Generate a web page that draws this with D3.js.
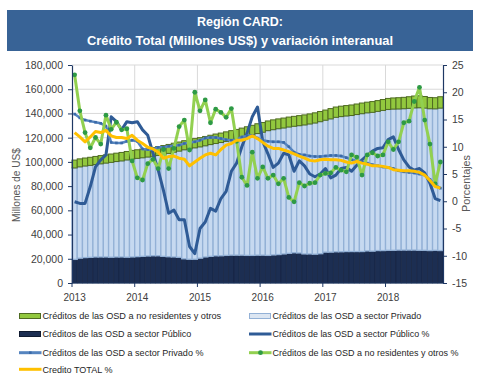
<!DOCTYPE html>
<html><head><meta charset="utf-8">
<script src="https://cdn.jsdelivr.net/npm/d3@7/dist/d3.min.js"></script>
<style>body{margin:0;background:#fff}svg{display:block}</style>
</head><body><svg id="c" width="482" height="384"></svg>
<script>
// ---------- DATA ----------
const years = ["2013","2014","2015","2016","2017","2018"];
const months = d3.range(71).map(i => (2013 + Math.floor(i/12)) + "-" + String(i%12+1).padStart(2,"0"));
const leftTicks = [0,20000,40000,60000,80000,100000,120000,140000,160000,180000];
const rightTicks = [-15,-10,-5,0,5,10,15,20,25];

const publico = [19500,20500,21000,21200,21500,21500,21500,21300,21500,21500,21300,21500,
 21800,22000,22300,22500,22500,22000,21700,21500,21200,20000,19600,19600,
 20500,21500,22000,22500,22500,22800,23000,23000,23000,22800,22800,23000,
 23000,22800,23200,23500,24000,24500,25000,24800,24000,24000,23800,24200,
 25500,25500,25800,25800,26000,26000,26000,26000,26500,26300,26800,26800,
 27000,27000,27200,27200,27200,27200,27000,27000,26800,27000,26800];
const privado = [75500,75400,75600,75900,76300,76900,77500,78300,78800,79300,80300,80900,
 81100,81400,81700,82100,82800,84200,85300,86500,87700,90000,91100,92000,
 91900,91800,92300,92700,93500,94100,94900,95800,96900,98200,99300,100400,
 101500,103000,103400,103900,104000,104300,104400,105100,106500,107300,108300,109000,
 108900,110000,111000,111600,111900,112300,113100,113800,114000,114600,114900,115700,
 116300,116600,116500,116700,117000,117400,117700,117400,117100,116800,117600];
const otros = [6500,6600,6600,6700,6700,6800,6800,6900,6900,7000,7000,7100,
 7100,7200,7200,7300,7300,7300,7400,7400,7500,7500,7600,7600,
 7600,7700,7700,7800,7800,7900,7900,8000,8000,8000,8100,8100,
 8000,8000,8100,8100,8200,8200,8200,8300,8300,8300,8400,8400,
 8400,8500,8500,8600,8600,8700,8700,8800,8800,8900,8900,9000,
 9100,9200,9300,9400,9600,9800,9900,9600,9300,9200,9400];

const publicoPct = [-0.1,-0.4,-0.4,2.7,6.3,7.6,8.5,15.5,14.6,13.1,14.6,14.4,
 14.6,13.1,12.1,8.8,5.7,2.0,-2.2,-1.6,-3.4,-3.4,-8.3,-9.6,
 -5.0,-3.8,-1.3,-1.8,0.5,1.8,5.5,7.0,10.0,12.5,15.5,17.3,
 11.0,8.7,6.2,7.0,8.8,8.5,5.5,7.4,6.5,5.0,4.5,5.0,
 6.0,4.3,4.8,6.0,6.2,5.5,6.6,7.6,8.4,9.2,9.7,9.8,
 11.3,11.8,9.5,7.6,6.3,5.7,6.0,5.2,3.3,0.5,0.1];
const privadoPct = [16.0,15.3,14.9,14.7,14.5,14.3,13.8,10.8,10.7,10.7,11.0,11.2,
 11.0,9.6,9.5,9.5,9.9,9.9,10.1,10.2,10.3,10.6,10.8,10.9,
 11.2,11.6,11.7,11.7,11.5,11.3,11.2,11.3,11.8,12.0,12.1,11.6,
 11.2,11.0,10.9,10.9,10.8,10.0,9.0,8.6,8.5,8.3,8.2,8.2,
 8.3,8.4,8.4,8.3,8.0,7.6,7.4,7.2,7.0,6.7,6.5,6.3,
 6.2,6.0,5.6,5.4,5.3,5.2,5.0,4.8,4.0,3.0,2.4];
const otrosPct = [23.2,16.6,12.6,9.8,11.7,10.5,15.8,13.2,14.5,13.1,13.3,7.4,
 4.3,3.9,6.9,7.7,6.0,9.5,6.0,9.7,13.7,14.9,9.4,20.0,
 16.6,18.6,14.4,16.9,16.3,15.4,17.0,11.0,4.4,2.9,9.0,4.2,
 6.3,4.2,4.8,3.2,4.2,0.7,-0.1,3.4,2.8,3.3,3.4,4.8,
 5.1,5.2,6.2,5.7,5.4,8.5,8.1,4.8,8.5,8.9,8.3,8.5,
 10.9,9.5,10.9,14.4,14.7,18.3,20.9,14.9,10.5,3.2,7.2];
const totalPct = [12.6,11.8,10.9,11.8,12.8,12.6,13.0,12.0,11.7,11.7,11.5,12.1,
 11.2,10.6,9.9,9.6,9.0,7.9,8.2,8.3,7.9,7.7,6.5,7.2,
 7.9,8.5,8.8,8.5,9.5,10.3,10.6,11.2,11.2,11.5,12.0,11.5,
 10.8,10.1,9.7,9.7,9.4,9.1,8.7,8.3,7.9,7.5,7.4,7.6,
 7.7,7.6,7.6,7.5,7.2,7.0,7.3,7.0,6.8,6.5,6.5,6.4,
 6.2,5.8,5.7,5.6,5.6,5.5,5.3,4.8,3.8,2.7,2.4];

const titleLines = ["Región CARD:", "Crédito Total (Millones US$) y variación interanual"];
const leftTitle = "Millones de US$";
const rightTitle = "Porcentajes";
const legendLabels = [
 "Créditos de las OSD a no residentes y otros",
 "Créditos de las OSD a sector Privado",
 "Créditos de las OSD a sector Público",
 "Créditos de las OSD a sector Público %",
 "Créditos de las OSD a sector Privado %",
 "Créditos de las OSD a no residentes y otros %",
 "Credito TOTAL %"];

// ---------- STYLE ----------
const C = {
  title: "#386396", grid: "#d9d9d9", axis: "#1f3864", tick: "#404040", atitle: "#595959",
  pubBar: "#1c2e52", pubBarS: "#15223f", privBar: "#c6d9f0", privBarS: "#93b1d6",
  otrBar: "#92c83e", otrBarS: "#4f6b22",
  pubPct: "#2f5b96", privPct: "#5584bf", privMk: "#3a6aa8",
  otrPct: "#92d050", otrMk: "#2e9a45", totPct: "#ffc000"
};
const FONT = "'Liberation Sans', Arial, sans-serif";

const svg = d3.select("#c");
const x = d3.scaleBand().domain(months).range([72, 443]).padding(0);
const yL = d3.scaleLinear().domain([0, 180000]).range([283, 65]);
const yR = d3.scaleLinear().domain([-15, 25]).range([283, 65]);
const cx = i => x(months[i]) + x.bandwidth() / 2;

// title box
svg.append("rect").attr("x", 7).attr("y", 10).attr("width", 466).attr("height", 41).attr("fill", C.title);
const tW = [86, 306], tY = [26, 44.5];
titleLines.forEach((t, k) => {
  svg.append("text").attr("x", 240).attr("y", tY[k]).attr("text-anchor", "middle")
    .attr("fill", "#fff").attr("font-family", FONT).attr("font-weight", "bold").attr("font-size", 12.8)
    .attr("textLength", tW[k]).attr("lengthAdjust", "spacingAndGlyphs").text(t);
});

// gridlines
const g = svg.append("g");
g.selectAll("line.h").data(leftTicks.slice(1)).join("line")
  .attr("x1", 72).attr("x2", 443).attr("y1", d => yL(d)).attr("y2", d => yL(d))
  .attr("stroke", C.grid).attr("stroke-width", 1);
g.selectAll("line.v").data(years.slice(1)).join("line")
  .attr("x1", (d, k) => x(months[(k + 1) * 12])).attr("x2", (d, k) => x(months[(k + 1) * 12]))
  .attr("y1", 65).attr("y2", 283).attr("stroke", C.grid).attr("stroke-width", 1);

// stacked bars
const rows = months.map((m, i) => ({ m, publico: publico[i], privado: privado[i], otros: otros[i] }));
const stack = d3.stack().keys(["publico", "privado", "otros"])(rows);
const barStyle = { publico: [C.pubBar, C.pubBarS, 0.6], privado: [C.privBar, C.privBarS, 1.3], otros: [C.otrBar, C.otrBarS, 1] };
stack.forEach(layer => {
  const st = barStyle[layer.key];
  svg.append("g").selectAll("rect").data(layer).join("rect")
    .attr("x", d => x(d.data.m)).attr("width", x.bandwidth())
    .attr("y", d => yL(d[1])).attr("height", d => yL(d[0]) - yL(d[1]))
    .attr("fill", st[0]).attr("stroke", st[1]).attr("stroke-width", st[2]);
});

// lines
const line = d3.line().x((d, i) => cx(i)).y(d => yR(d));
svg.append("path").datum(publicoPct).attr("d", line).attr("fill", "none").attr("stroke", C.pubPct).attr("stroke-width", 3).attr("stroke-linejoin", "round");
svg.append("path").datum(privadoPct).attr("d", line).attr("fill", "none").attr("stroke", C.privPct).attr("stroke-width", 2.5).attr("stroke-linejoin", "round");
svg.append("g").selectAll("rect").data(privadoPct).join("rect")
  .attr("x", (d, i) => cx(i) - 1.3).attr("y", d => yR(d) - 1.3).attr("width", 2.6).attr("height", 2.6).attr("fill", C.privMk);
svg.append("path").datum(otrosPct).attr("d", line).attr("fill", "none").attr("stroke", C.otrPct).attr("stroke-width", 3).attr("stroke-linejoin", "round");
svg.append("g").selectAll("circle").data(otrosPct).join("circle")
  .attr("cx", (d, i) => cx(i)).attr("cy", d => yR(d)).attr("r", 2.4).attr("fill", C.otrMk);
svg.append("path").datum(totalPct).attr("d", line).attr("fill", "none").attr("stroke", C.totPct).attr("stroke-width", 3).attr("stroke-linejoin", "round");

// axes
function styleAxis(sel) {
  sel.selectAll(".domain").attr("stroke", C.axis).attr("stroke-width", 1.2);
  sel.selectAll(".tick line").attr("stroke", C.axis);
  sel.selectAll(".tick text").attr("fill", C.tick).attr("font-family", FONT).attr("font-size", 10.5);
}
const axL = svg.append("g").attr("transform", "translate(72,0)")
  .call(d3.axisLeft(yL).tickValues(leftTicks).tickFormat(d3.format(",")).tickSize(4).tickPadding(5).tickSizeOuter(0));
styleAxis(axL);
const axR = svg.append("g").attr("transform", "translate(443,0)")
  .call(d3.axisRight(yR).tickValues(rightTicks).tickFormat(d => String(d)).tickSize(4).tickPadding(5).tickSizeOuter(0));
styleAxis(axR);
// bottom axis
svg.append("line").attr("x1", 72).attr("x2", 443).attr("y1", 283).attr("y2", 283).attr("stroke", C.axis).attr("stroke-width", 1.2);
svg.append("g").selectAll("line").data(years).join("line")
  .attr("x1", (d, k) => x(months[k * 12])).attr("x2", (d, k) => x(months[k * 12]))
  .attr("y1", 283).attr("y2", 287).attr("stroke", C.axis);
svg.append("g").selectAll("text").data(years).join("text")
  .attr("x", (d, k) => cx(k * 12)).attr("y", 300.5).attr("text-anchor", "middle")
  .attr("fill", C.tick).attr("font-family", FONT).attr("font-size", 10).text(d => d);

// axis titles
svg.append("text").attr("transform", "translate(20,185) rotate(-90)").attr("text-anchor", "middle")
  .attr("fill", C.atitle).attr("font-family", FONT).attr("font-size", 10.3)
  .attr("textLength", 74).attr("lengthAdjust", "spacingAndGlyphs").text(leftTitle);
svg.append("text").attr("transform", "translate(470,183.5) rotate(-90)").attr("text-anchor", "middle")
  .attr("fill", C.atitle).attr("font-family", FONT).attr("font-size", 10.5)
  .attr("textLength", 57).attr("lengthAdjust", "spacingAndGlyphs").text(rightTitle);

// legend
const legPos = [[19.5, 316], [249.5, 316], [19.5, 334], [249.5, 334], [19.5, 352.7], [249.5, 352.7], [19.5, 369.3]];
const legW = [178.7, 148.7, 148.7, 157, 161, 186, 70];
const lg = svg.append("g");
legendLabels.forEach((lab, k) => {
  const [lx, ly] = legPos[k];
  if (k === 0 || k === 1 || k === 2) {
    const f = k === 0 ? [C.otrBar, C.otrBarS] : k === 1 ? ["#dce6f2", C.privBarS] : [C.pubBar, "#0f1a30"];
    lg.append("rect").attr("x", lx).attr("y", ly - 2.5).attr("width", 21).attr("height", 5)
      .attr("fill", f[0]).attr("stroke", f[1]).attr("stroke-width", 1);
  } else {
    const col = k === 3 ? C.pubPct : k === 4 ? C.privPct : k === 5 ? C.otrPct : C.totPct;
    lg.append("line").attr("x1", lx - 0.5).attr("x2", lx + 22).attr("y1", ly).attr("y2", ly)
      .attr("stroke", col).attr("stroke-width", 3);
    if (k === 4) lg.append("rect").attr("x", lx + 9.5).attr("y", ly - 1.3).attr("width", 2.6).attr("height", 2.6).attr("fill", C.privMk);
    if (k === 5) lg.append("circle").attr("cx", lx + 11).attr("cy", ly).attr("r", 2.4).attr("fill", C.otrMk);
  }
  lg.append("text").attr("x", lx + 23).attr("y", ly + 3.3)
    .attr("fill", "#262626").attr("font-family", FONT).attr("font-size", 9.3)
    .attr("textLength", legW[k]).attr("lengthAdjust", "spacingAndGlyphs").text(lab);
});
</script>
</body></html>
